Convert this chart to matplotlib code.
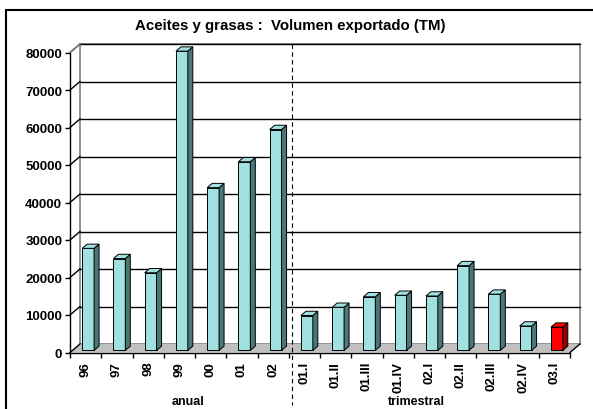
import numpy as np
import matplotlib.pyplot as plt
from matplotlib.patches import Polygon, Rectangle

# data
anual_labels = ['96', '97', '98', '99', '00', '01', '02']
anual_vals = [27200, 24500, 20700, 79800, 43400, 50300, 58900]
trim_labels = ['01.I', '01.II', '01.III', '01.IV', '02.I', '02.II', '02.III', '02.IV', '03.I']
trim_vals = [9300, 11500, 14300, 14700, 14500, 22600, 15000, 6500, 6200]
highlight = '03.I'
yticks = [0, 10000, 20000, 30000, 40000, 50000, 60000, 70000, 80000]

labels = anual_labels + trim_labels
vals = anual_vals + trim_vals
n = len(labels)

plt.rcParams['font.family'] = ['Liberation Sans', 'DejaVu Sans']
W, H = 593, 410
fig = plt.figure(figsize=(W / 100, H / 100), dpi=100)
ax = fig.add_axes([70 / W, (H - 353.5) / H, 500 / W, 300 / H])
ax.set_xlim(0, n)
ax.set_ylim(0, 80000)

# depth of the 3d box, converted from pixels into data units
px_x = n / 500.0
px_y = 80000 / 300.0
DX = 10 * px_x
DY = 8.5 * px_y

# back wall
ax.add_patch(Rectangle((DX, DY), n, 80000, facecolor='white', edgecolor='#808080',
                       lw=1.2, zorder=1, clip_on=False))
# gridlines on back wall and left wall
for v in yticks[1:]:
    ax.plot([DX, n + DX], [v + DY, v + DY], color='black', lw=1.0, zorder=2, clip_on=False)
    ax.plot([0, DX], [v, v + DY], color='black', lw=1.0, zorder=2, clip_on=False)
ax.plot([0, DX], [80000, 80000 + DY], color='#808080', lw=1.2, zorder=2, clip_on=False)

# floor
ax.add_patch(Polygon([(0, 0), (n, 0), (n + DX, DY), (DX, DY)], closed=True,
                     facecolor='#c0c0c0', edgecolor='none', zorder=2, clip_on=False))
ax.plot([0, DX], [0, DY], color='black', lw=1.0, zorder=3, clip_on=False)
ax.plot([n, n + DX], [0, DY], color='black', lw=1.0, zorder=3, clip_on=False)

# bars
bw = 0.38
f0 = 0.25
f1 = 0.75
for i, (lab, v) in enumerate(zip(labels, vals)):
    if lab == highlight:
        front, side, top = '#ff0000', '#990000', '#ff0000'
    else:
        front, side, top = '#a0e0e0', '#4a7878', '#a0e0e0'
    xl = i + 0.5 - bw / 2 + f0 * DX
    xr = xl + bw
    b = f0 * DY
    d = (f1 - f0)
    ax.bar(xl, v, width=bw, bottom=b, align='edge', color=front, edgecolor='black',
           lw=0.7, zorder=4, clip_on=False)
    ax.add_patch(Polygon([(xr, b), (xr + d * DX, b + d * DY), (xr + d * DX, b + v + d * DY), (xr, b + v)],
                         closed=True, facecolor=side, edgecolor='black', lw=0.7, zorder=4, clip_on=False))
    ax.add_patch(Polygon([(xl, b + v), (xr, b + v), (xr + d * DX, b + v + d * DY), (xl + d * DX, b + v + d * DY)],
                         closed=True, facecolor=top, edgecolor='black', lw=0.7, zorder=4, clip_on=False))

# separator between annual and quarterly data
sep = len(anual_labels) + 3 * px_x
ax.plot([sep, sep], [80000 + DY, -52 * px_y], color='black', lw=0.8, ls=(0, (4, 3)),
        zorder=6, clip_on=False)

# axes
for s in ['top', 'right']:
    ax.spines[s].set_visible(False)
ax.spines['left'].set_linewidth(1.0)
ax.spines['bottom'].set_linewidth(1.0)
ax.spines['left'].set_zorder(5)
ax.spines['bottom'].set_zorder(5)
ax.set_yticks(yticks)
ax.set_yticklabels([str(v) for v in yticks], fontsize=9.5, fontweight='bold')
ax.tick_params(axis='y', length=3.6, width=1.0, pad=2)
ax.set_xticks(np.arange(n) + 0.5)
ax.set_xticklabels(labels, rotation=90, fontsize=9.5, fontweight='bold')
ax.set_xticks(np.arange(n + 1), minor=True)
ax.tick_params(axis='x', which='major', length=0, pad=6)
ax.tick_params(axis='x', which='minor', length=3.5, width=1.0)
ax.patch.set_visible(False)

fig.text(188 / W, 1 - 396 / H, 'anual', ha='center', va='top', fontsize=9, fontweight='bold')
fig.text(416 / W, 1 - 396 / H, 'trimestral', ha='center', va='top', fontsize=9, fontweight='bold')
fig.text(290 / W, 1 - 26 / H, 'Aceites y grasas :  Volumen exportado (TM)', ha='center',
         va='center', fontsize=10.8, fontweight='bold')

# outer chart frame
fig.patches.append(Rectangle((6 / W, -0.05), 1.0, 1 - 11 / H + 0.05, transform=fig.transFigure,
                             fill=False, edgecolor='black', lw=1.5))

fig.savefig('out.png', dpi=100)
